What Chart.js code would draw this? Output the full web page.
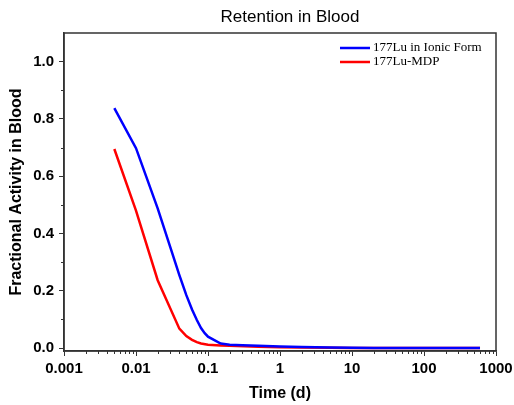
<!DOCTYPE html>
<html>
<head>
<meta charset="utf-8">
<script src="https://cdn.jsdelivr.net/npm/chart.js@4.4.0/dist/chart.umd.min.js"></script>
<style>
  html, body { margin: 0; padding: 0; background: #fff; }
</style>
</head>
<body>
<canvas id="retentionChart" width="514" height="405"></canvas>
<script>
// values (time in days, fraction of activity in blood)
const ionicTimes = [0.005, 0.01, 0.02, 0.03, 0.04, 0.05, 0.06, 0.07, 0.08, 0.09, 0.1, 0.15, 0.2, 0.3, 0.5, 1, 2, 5, 10, 20, 50, 100, 200, 600];
const ionicValues = [0.838, 0.698, 0.488, 0.352, 0.255, 0.185, 0.135, 0.098, 0.07, 0.052, 0.04, 0.016, 0.012, 0.01, 0.008, 0.006, 0.004, 0.002, 0.0012, 0.0008, 0.0005, 0.0003, 0.0002, 0.0001];
const mdpTimes = [0.005, 0.01, 0.02, 0.04, 0.05, 0.06, 0.07, 0.08, 0.1, 0.15, 0.2, 0.5, 1, 2, 5, 10, 100, 600];
const mdpValues = [0.695, 0.48, 0.237, 0.068, 0.042, 0.029, 0.021, 0.016, 0.012, 0.009, 0.008, 0.005, 0.003, 0.002, 0.001, 0.0006, 0.0002, 0.0001];

const seriesLabels = ['177Lu in Ionic Form', '177Lu-MDP'];
const xDecades = [0.001, 0.01, 0.1, 1, 10, 100, 1000];
const yTicks = [0, 0.2, 0.4, 0.6, 0.8, 1.0];
const yMinorTicks = [0.1, 0.3, 0.5, 0.7, 0.9];

const ctx = document.getElementById('retentionChart');

function toPoints(times, values) {
  return times.map((t, i) => ({ x: t, y: values[i] }));
}

// frame, minor ticks, legend and title
const decorations = {
  id: 'decorations',
  afterDraw(chart) {
    const c = chart.ctx;
    const a = chart.chartArea;
    const x = chart.scales.x;
    const y = chart.scales.y;
    c.save();

    c.strokeStyle = '#333';
    c.lineWidth = 1.5;
    c.strokeRect(a.left, a.top, a.right - a.left, a.bottom - a.top);

    c.lineWidth = 1;
    c.beginPath();
    for (let d = 0; d < xDecades.length - 1; d++) {
      for (let m = 2; m <= 9; m++) {
        const px = Math.round(x.getPixelForValue(xDecades[d] * m)) + 0.5;
        c.moveTo(px, a.bottom);
        c.lineTo(px, a.bottom + 3);
      }
    }
    yMinorTicks.forEach((v) => {
      const py = Math.round(y.getPixelForValue(v)) + 0.5;
      c.moveTo(a.left, py);
      c.lineTo(a.left - 3, py);
    });
    c.stroke();

    // legend
    c.font = '13px "Liberation Serif"';
    c.textBaseline = 'middle';
    c.textAlign = 'left';
    chart.data.datasets.forEach((ds, i) => {
      const ly = a.top + 15 + i * 14;
      c.strokeStyle = ds.borderColor;
      c.lineWidth = 2.5;
      c.beginPath();
      c.moveTo(a.right - 156, ly);
      c.lineTo(a.right - 126, ly);
      c.stroke();
      c.fillStyle = '#000';
      c.fillText(ds.label, a.right - 123, ly);
    });

    // title
    c.font = '17px "Liberation Sans"';
    c.textAlign = 'center';
    c.fillStyle = '#000';
    c.fillText('Retention in Blood', (a.left + a.right) / 2 + 10, 17);
    c.restore();
  }
};

const data = {
  datasets: [
    {
      label: seriesLabels[0],
      data: toPoints(ionicTimes, ionicValues),
      borderColor: '#0000ff',
      backgroundColor: '#0000ff',
      borderWidth: 2.5,
      pointRadius: 0,
      tension: 0,
    },
    {
      label: seriesLabels[1],
      data: toPoints(mdpTimes, mdpValues),
      borderColor: '#ff0000',
      backgroundColor: '#ff0000',
      borderWidth: 2.5,
      pointRadius: 0,
      tension: 0,
    },
  ],
};

const config = {
  type: 'line',
  data: data,
  options: {
    responsive: false,
    animation: false,
    layout: { padding: { top: 33, right: 18, left: 0, bottom: 0 } },
    plugins: {
      legend: { display: false },
      tooltip: { enabled: false },
    },
    scales: {
      x: {
        type: 'logarithmic',
        min: 0.001,
        max: 1000,
        afterBuildTicks: (scale) => {
          scale.ticks = xDecades.map((v) => ({ value: v, major: true }));
        },
        afterFit: (scale) => {
          scale.height = 54;
          scale.paddingLeft = 0;
          scale.paddingRight = 0;
        },
        ticks: {
          autoSkip: false,
          maxRotation: 0,
          padding: 4,
          color: '#000',
          font: { family: 'Liberation Sans', size: 15, weight: 'bold' },
          callback: (v) => String(v),
        },
        grid: { drawOnChartArea: false, tickLength: 5, color: '#333', tickWidth: 1 },
        border: { color: '#333', width: 1.5 },
        title: {
          display: true,
          text: 'Time (d)',
          color: '#000',
          font: { family: 'Liberation Sans', size: 16, weight: 'bold' },
          padding: { top: 0, bottom: 2 },
        },
      },
      y: {
        min: -0.01,
        max: 1.1,
        afterBuildTicks: (scale) => {
          scale.ticks = yTicks.map((v) => ({ value: v }));
        },
        afterFit: (scale) => {
          scale.width = 64;
          scale.paddingTop = 0;
          scale.paddingBottom = 0;
        },
        ticks: {
          padding: 5,
          color: '#000',
          font: { family: 'Liberation Sans', size: 15, weight: 'bold' },
          callback: (v) => v.toFixed(1),
        },
        grid: { drawOnChartArea: false, tickLength: 5, color: '#333', tickWidth: 1 },
        border: { color: '#333', width: 1.5 },
        title: {
          display: true,
          text: 'Fractional Activity in Blood',
          color: '#000',
          font: { family: 'Liberation Sans', size: 16, weight: 'bold' },
          padding: { top: 7, bottom: 0 },
        },
      },
    },
  },
  plugins: [decorations],
};

const retentionChart = new Chart(ctx, config);
</script>
</body>
</html>
